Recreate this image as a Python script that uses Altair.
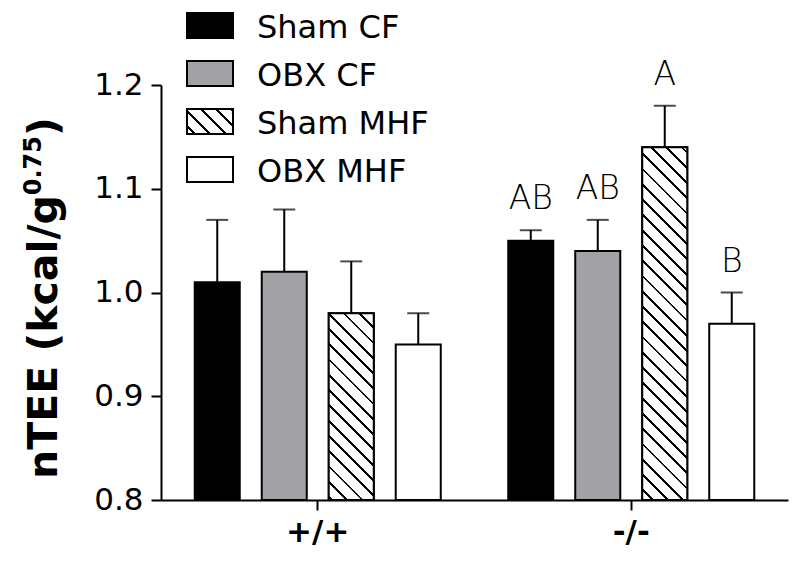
import math
import altair as alt
import pandas as pd

# ---------------- data ----------------
genotypes = ["+/+", "-/-"]
groups = ["Sham CF", "OBX CF", "Sham MHF", "OBX MHF"]
means_wt = [1.01, 1.02, 0.98, 0.95]
tops_wt = [1.07, 1.08, 1.03, 0.98]
means_ko = [1.05, 1.04, 1.14, 0.97]
tops_ko = [1.06, 1.07, 1.18, 1.00]
letters_wt = ["", "", "", ""]
letters_ko = ["AB", "AB", "A", "B"]
y_ticks = [0.8, 0.9, 1.0, 1.1, 1.2]
fills = ["#000000", "#a2a2a6", "#ffffff", "#ffffff"]
hatched_group = "Sham MHF"

rows = []
for g, means, tops, lets in [("+/+", means_wt, tops_wt, letters_wt),
                             ("-/-", means_ko, tops_ko, letters_ko)]:
    for grp, m, t, l in zip(groups, means, tops, lets):
        rows.append({"genotype": g, "group": grp, "mean": m, "top": t, "letter": l})
df = pd.DataFrame(rows)

# ---------------- layout ----------------
W, H = 627, 415
PAD_L, PAD_T, PAD_R, PAD_B = 153, 77, 4, 60
Y0, Y1 = 0.8, 1.2
PX = H / (Y1 - Y0)
OFF_PI, OFF_PO = 0.328, 0.5035
STEP_G = W / 2
STEP_O = STEP_G / (4 - OFF_PI + 2 * OFF_PO)
BAR_W = STEP_O * (1 - OFF_PI)
FONT = "DejaVu Sans"


def hatch(w, h, x_left, y_bottom, period=10.8, thick=2.0):
    """Diagonal '\\' hatching as a bounding-box linear gradient."""
    L = (w + h) / math.sqrt(2)
    s = (w + h) / (w * w + h * h)
    phase = (-(x_left - y_bottom) / math.sqrt(2)) % period
    stops = [{"offset": 0, "color": "white"}]
    d = phase - period
    while d - thick / 2 < L:
        a = (d - thick / 2) / L
        b = (d + thick / 2) / L
        a, b = max(0.0, a), min(1.0, b)
        if b > 0 and a < 1:
            stops += [{"offset": a, "color": "white"}, {"offset": a, "color": "black"},
                      {"offset": b, "color": "black"}, {"offset": b, "color": "white"}]
        d += period
    stops.append({"offset": 1, "color": "white"})
    return {"gradient": "linear", "x1": 0, "y1": 1, "x2": w * s, "y2": 1 - h * s,
            "stops": stops}


x_enc = alt.X("genotype:N", sort=genotypes,
              scale=alt.Scale(paddingInner=0, paddingOuter=0),
              axis=alt.Axis(title=None, labelAngle=0, labelFont=FONT, labelFontWeight="bold",
                            labelFontSize=31, labelColor="black", tickSize=10, tickWidth=2,
                            tickColor="black", domainWidth=2, domainColor="black",
                            labelPadding=7))
xo_enc = alt.XOffset("group:N", sort=groups,
                     scale=alt.Scale(paddingInner=OFF_PI, paddingOuter=OFF_PO))
y_scale = alt.Scale(domain=[Y0, Y1], zero=False, nice=False)
y_axis = alt.Axis(values=y_ticks, format=".1f", title=None, labelFont=FONT, labelFontSize=31,
                  labelColor="black", tickSize=10, tickWidth=2, tickColor="black",
                  domainWidth=2, domainColor="black", labelPadding=8, grid=False)

base = alt.Chart(df)

bars = base.mark_bar(stroke="black", strokeWidth=2).encode(
    x=x_enc, xOffset=xo_enc,
    y=alt.Y("mean:Q", scale=y_scale, axis=y_axis),
    y2=alt.datum(Y0),
    fill=alt.Fill("group:N", scale=alt.Scale(domain=groups, range=fills), legend=None),
)

layers = [bars]

# hatched overlays, one per bar (gradient depends on bar size)
for gi, (g, means) in enumerate([("+/+", means_wt), ("-/-", means_ko)]):
    k = groups.index(hatched_group)
    h = (means[k] - Y0) * PX
    x_left = PAD_L + gi * STEP_G + OFF_PO * STEP_O + k * STEP_O
    y_bottom = PAD_T + H
    layers.append(
        alt.Chart(df).transform_filter(
            (alt.datum.genotype == g) & (alt.datum.group == hatched_group)
        ).mark_bar(stroke="black", strokeWidth=2, fill=hatch(BAR_W, h, x_left, y_bottom)).encode(
            x=x_enc, xOffset=xo_enc, y=alt.Y("mean:Q", scale=y_scale, axis=y_axis),
            y2=alt.datum(Y0))
    )

err = base.mark_rule(color="black", strokeWidth=2).encode(
    x=x_enc, xOffset=xo_enc, y=alt.Y("mean:Q", scale=y_scale), y2="top:Q")
caps = base.mark_tick(color="black", orient="horizontal", size=22, thickness=2).encode(
    x=x_enc, xOffset=xo_enc, y=alt.Y("top:Q", scale=y_scale))
lett = base.mark_text(font=FONT, fontSize=33, fontWeight=200, color="black", dy=-21,
                      baseline="alphabetic").encode(
    x=x_enc, xOffset=xo_enc, y=alt.Y("top:Q", scale=y_scale), text="letter:N")
layers += [err, caps, lett]

# legend (layout in pixels)
one = pd.DataFrame({"k": [0]})
leg_y = [-72, -24, 24, 72]
for i, grp in enumerate(groups):
    y_top = leg_y[i]
    fill = hatch(46, 25, PAD_L + 26, PAD_T + y_top + 25, period=10.8) if grp == hatched_group else fills[i]
    layers.append(alt.Chart(one).mark_rect(stroke="black", strokeWidth=2, fill=fill).encode(
        x=alt.value(26), x2=alt.value(72), y=alt.value(y_top), y2=alt.value(y_top + 25)))
    layers.append(alt.Chart(one).mark_text(text=grp, font=FONT, fontSize=32, color="black",
                                           align="left", baseline="alphabetic").encode(
        x=alt.value(96), y=alt.value(y_top + 25)))

# y-axis title with superscript
TITLE_SIZE = 41
SUP_SIZE = 24
main_txt = "nTEE (kcal/g"
main_len = 6.922 * TITLE_SIZE
sup_len = 2.468 * SUP_SIZE
tx, ty = -104, 394
layers.append(alt.Chart(one).mark_text(text=main_txt, font=FONT, fontSize=TITLE_SIZE,
                                       fontWeight="bold", angle=270, align="left",
                                       baseline="alphabetic", color="black").encode(
    x=alt.value(tx), y=alt.value(ty)))
layers.append(alt.Chart(one).mark_text(text="0.75", font=FONT, fontSize=SUP_SIZE,
                                       fontWeight="bold", angle=270, align="left",
                                       baseline="alphabetic", color="black").encode(
    x=alt.value(tx - 16), y=alt.value(ty - main_len)))
layers.append(alt.Chart(one).mark_text(text=")", font=FONT, fontSize=TITLE_SIZE,
                                       fontWeight="bold", angle=270, align="left",
                                       baseline="alphabetic", color="black").encode(
    x=alt.value(tx), y=alt.value(ty - main_len - sup_len)))

chart = alt.layer(*layers).properties(
    width=W, height=H,
    autosize=alt.AutoSizeParams(type="none"),
    padding={"left": PAD_L, "top": PAD_T, "right": PAD_R, "bottom": PAD_B},
    background="white",
).configure_view(stroke=None)

chart.save("out.html", embed_options={"renderer": "svg", "actions": False})
